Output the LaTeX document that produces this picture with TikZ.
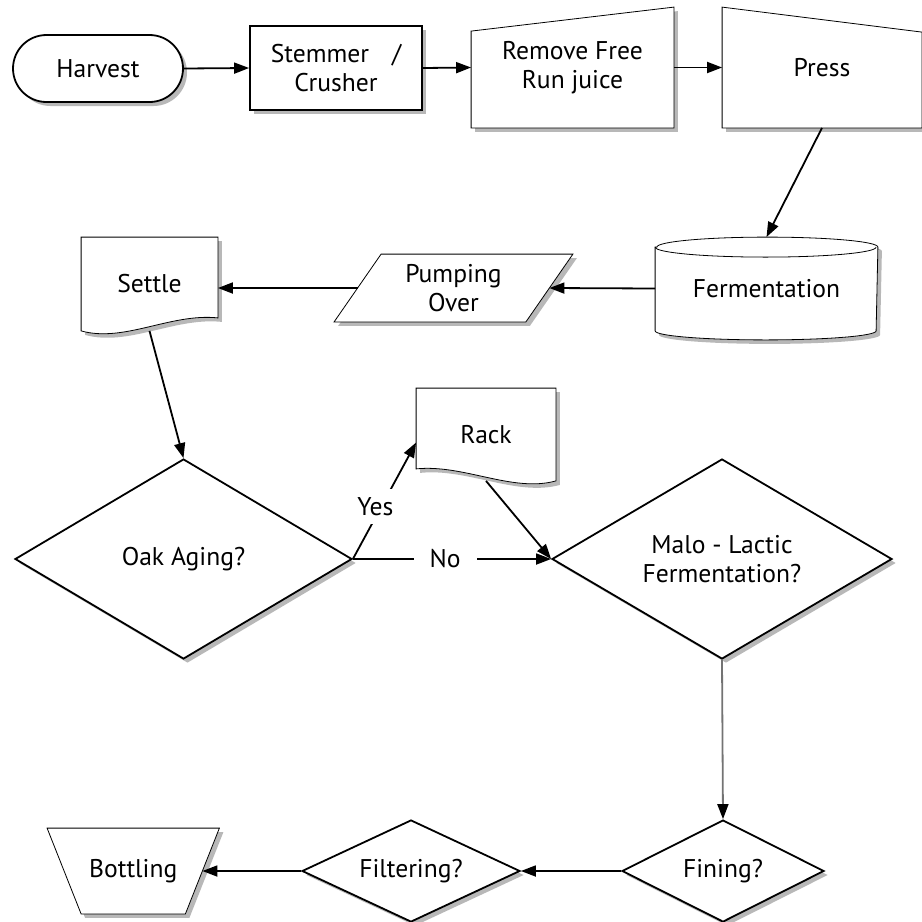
\documentclass[tikz,border=0pt]{standalone}
\usepackage{fontspec}
\setmainfont{PT Sans}
\usetikzlibrary{arrows.meta,shapes.geometric,shapes.misc,shadows,backgrounds}

\begin{document}
\begin{tikzpicture}[x=0.5pt,y=-0.5pt,line width=0.9pt,
    font=\fontsize{12.8}{14.5}\selectfont,
    shadowed/.style={drop shadow={shadow xshift=2pt,shadow yshift=-2pt,fill=black!28,opacity=1}},
    box/.style={draw,fill=white,shadowed,inner sep=0pt,align=center},
    slot/.style={inner sep=0pt,align=center},
    ask/.style={diamond,aspect=2,draw,fill=white,shadowed,inner sep=0pt,align=center},
    outline/.style={draw,fill=white,shadowed},
    flow/.style={-{Triangle[length=7.5pt,width=5.5pt,color=black]}},
    answer/.style={fill=white,inner xsep=8pt,inner ysep=4pt}]
  \useasboundingbox (0,0) rectangle (922,922);

  \node[box,rounded rectangle,minimum width=85pt,minimum height=33.5pt] (harvest) at (98,68.5) {Harvest};
  \node[box,minimum width=86pt,minimum height=42pt] (stemmer) at (336,68) {Stemmer\hspace{0.9em}/\\Crusher};
  \node[slot,minimum width=100.5pt,minimum height=59.5pt] (freerun) at (572.5,67.5) {Remove Free\\Run juice};
  \node[slot,minimum width=99pt,minimum height=59.5pt] (press) at (822,67.5) {Press};
  \node[slot,minimum width=110.5pt,minimum height=50.5pt] (ferment) at (766.5,288.5) {Fermentation};
  \node[slot,minimum width=95pt,minimum height=33pt] (pumping) at (453.5,288) {Pumping\\Over};
  \node[slot,minimum width=67.5pt,minimum height=46pt] (settle) at (149.5,284) {Settle};
  \node[slot,minimum width=69pt,minimum height=45.5pt] (rack) at (486,434.5) {Rack};
  \node[ask,minimum width=168.5pt,minimum height=100pt] (oak) at (183.5,559) {Oak Aging?};
  \node[ask,minimum width=170pt,minimum height=100pt] (malo) at (722,559) {Malo - Lactic\\Fermentation?};
  \node[ask,minimum width=101pt,minimum height=51pt] (fining) at (723,871) {Fining?};
  \node[ask,minimum width=109pt,minimum height=51pt] (filter) at (411,871) {Filtering?};
  \node[slot,minimum width=68.25pt,minimum height=42pt] (bottling) at (133.25,871) {Bottling};

  \begin{scope}[on background layer]
    \path[outline] (freerun.south west) -- (freerun.south east) -- (freerun.north east) -- ([yshift=-12pt]freerun.north west) -- cycle;
    \path[outline] (press.south west) -- (press.north west) -- ([yshift=-12.5pt]press.north east) -- (press.south east) -- cycle;
    \path[outline] ([yshift=-5pt]ferment.north west) -- ([yshift=4.5pt]ferment.south west)
      arc[start angle=180,end angle=360,x radius=55.25pt,y radius=4.5pt] -- ([yshift=-5pt]ferment.north east)
      arc[start angle=0,end angle=180,x radius=55.25pt,y radius=5pt] -- cycle;
    \draw ([yshift=-5pt]ferment.north west) arc[start angle=180,end angle=360,x radius=55.25pt,y radius=5pt];
    \path[outline] ([xshift=-11.75pt]pumping.south west) -- ([xshift=11.75pt]pumping.north west)
      -- ([xshift=11.75pt]pumping.north east) -- ([xshift=-11.75pt]pumping.south east) -- cycle;
    \path[outline] (settle.south west) -- (settle.north west) -- (settle.north east) -- ([yshift=6.5pt]settle.south east)
      .. controls ([xshift=-23.5pt,yshift=9pt]settle.south east) and ([xshift=21.5pt,yshift=-6pt]settle.south west) .. (settle.south west) -- cycle;
    \path[outline] (rack.south east) -- (rack.north east) -- (rack.north west) -- ([yshift=6pt]rack.south west)
      .. controls ([xshift=23.5pt,yshift=8.5pt]rack.south west) and ([xshift=-21.5pt,yshift=-6pt]rack.south east) .. (rack.south east) -- cycle;
    \path[outline] ([xshift=-8.5pt]bottling.north west) -- ([xshift=8.5pt]bottling.north east)
      -- ([xshift=-8.5pt]bottling.south east) -- ([xshift=8.5pt]bottling.south west) -- cycle;
  \end{scope}

  \draw[flow] (harvest.east) -- (stemmer.west);
  \draw[flow] (stemmer.east) -- (freerun.west);
  \draw[flow] (freerun.east) -- (press.west);
  \draw[flow] (press.south) -- (ferment.north);
  \draw[flow] (ferment.west) -- (pumping.east);
  \draw[flow] (pumping.west) -- (pumping.west -| settle.east);
  \draw[flow] (settle.south) -- (oak.north);
  \draw[flow] (oak.east) -- ([yshift=-4pt]rack.west) node[answer,pos=0.45,xshift=-3pt] (yes) {Yes};
  \draw[flow] (oak.east) -- (malo.west) node[answer,pos=0.465] (no) {No};
  \draw[flow] (rack.south) -- (malo.west);
  \draw[flow,black!55] (malo.south) -- (fining.north);
  \draw[flow] (fining.west) -- (filter.east);
  \draw[flow] (filter.west) -- (bottling.east);
\end{tikzpicture}
\end{document}
